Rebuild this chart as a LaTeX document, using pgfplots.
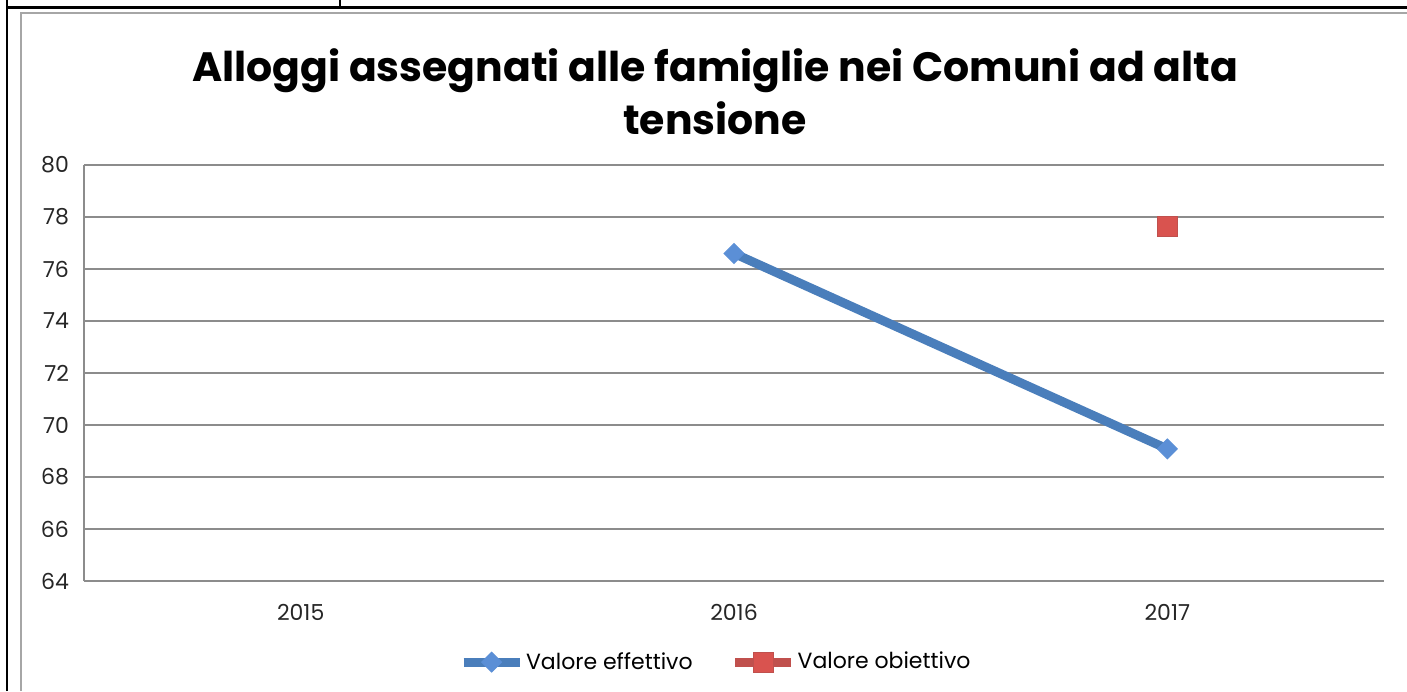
\documentclass[border=0pt]{standalone}
\usepackage{pgfplots}
\pgfplotsset{compat=1.18}
\usepackage{fontspec}
\setmainfont{Poppins}
\definecolor{serblue}{HTML}{4A7EBB}
\definecolor{markblue}{HTML}{5B8FD6}
\definecolor{serred}{HTML}{C0504D}
\definecolor{markred}{HTML}{D9534F}
\definecolor{gridgray}{HTML}{8C8C8C}
\begin{document}
\begin{tikzpicture}
\path[use as bounding box] (0pt,0pt) rectangle (703.5pt,345.5pt);
% table and chart frame
\draw[black,line width=1.2pt] (3.5pt,0pt) -- (3.5pt,345.5pt);
\draw[black,line width=1.2pt] (3.5pt,341.8pt) -- (703.5pt,341.8pt);
\draw[black,line width=0.6pt] (170pt,341.8pt) -- (170pt,345.5pt);
\draw[gray!70,line width=0.6pt] (10.5pt,0pt) -- (10.5pt,339pt) -- (703.5pt,339pt);
% title
\node[align=center,font=\fontsize{20.5}{26.5}\selectfont\bfseries] at (357.5pt,299.5pt) {Alloggi assegnati alle famiglie nei Comuni ad alta\\tensione};
\begin{axis}[
  at={(42pt,55pt)}, anchor=south west,
  scale only axis, width=650pt, height=208pt,
  xmin=-0.5, xmax=2.5, ymin=64, ymax=80,
  xtick={0,1,2}, xticklabels={2015,2016,2017},
  ytick={64,66,...,80},
  axis x line*=bottom, axis y line*=left,
  axis line style={gridgray, line width=0.6pt},
  ymajorgrids, grid style={gridgray, line width=0.6pt},
  major tick length=0pt,
  /pgf/number format/assume math mode=true,
  ticklabel style={font=\fontsize{11}{13}\selectfont, text=black!85},
  yticklabel style={xshift=-4pt},
  xticklabel style={yshift=-8pt},
  legend columns=2,
  legend style={draw=none, at={(0.486,-0.195)}, anchor=center,
    font=\fontsize{11}{13}\selectfont,
    nodes={inner xsep=1pt},
    /tikz/every even column/.append style={column sep=18pt}},
  legend image code/.code={\draw[mark repeat=2,mark phase=2] plot coordinates {(0pt,0pt)(14pt,0pt)(28pt,0pt)};},
  clip=false,
]
\addplot[serblue, line width=4.5pt, mark=square*, mark size=3.5pt,
  mark options={rotate=45, fill=markblue, draw=markblue, line width=0.5pt}]
  coordinates {(1,76.6) (2,69.08)};
\addlegendentry{Valore effettivo}
\addplot[serred, line width=4.5pt, mark=square*, mark size=5pt,
  mark options={fill=markred, draw=serred, line width=0.5pt}]
  coordinates {(2,77.65)};
\addlegendentry{Valore obiettivo}
\end{axis}
\end{tikzpicture}
\end{document}
